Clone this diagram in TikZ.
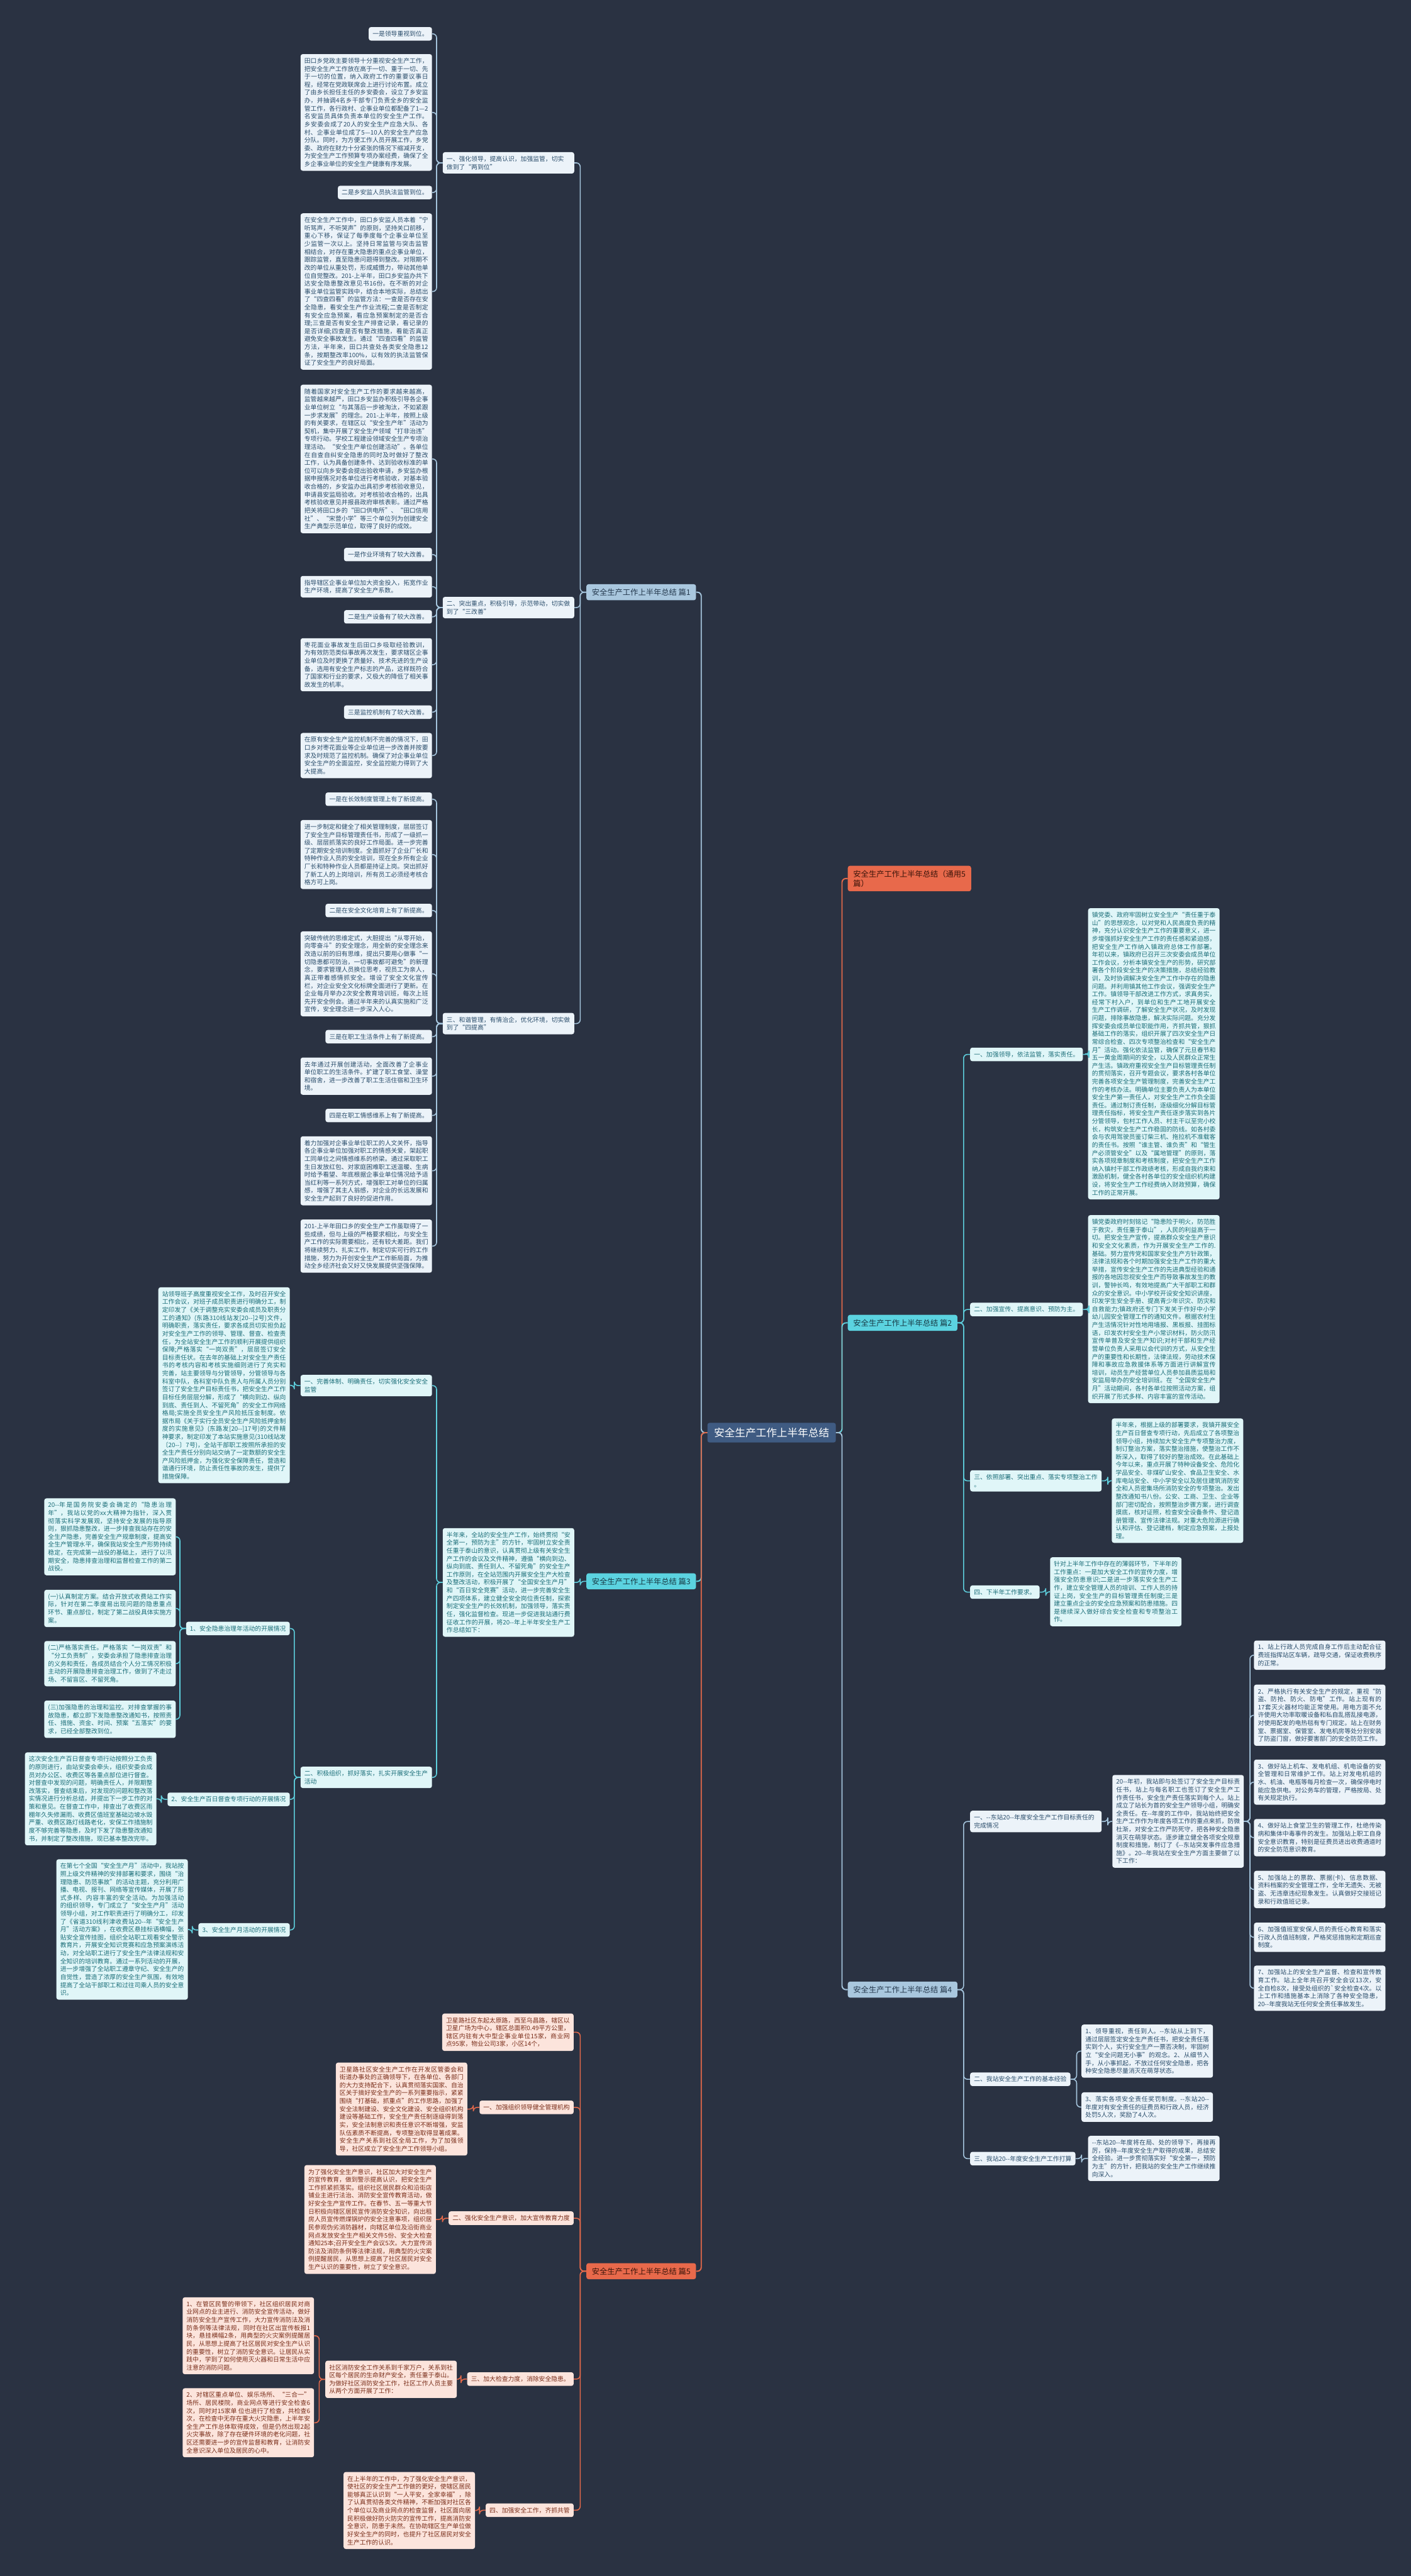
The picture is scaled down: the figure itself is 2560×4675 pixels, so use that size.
\documentclass[tikz,border=0pt]{standalone}
\usepackage{fontspec}
\newfontfamily\cjk{Noto Sans CJK SC}
\XeTeXlinebreaklocale "zh"
\XeTeXlinebreakskip=0pt plus 1.2pt
\parindent=0pt
\tolerance=9000
\emergencystretch=12pt
\hbadness=10000
\definecolor{bg}{HTML}{2A3242}
\definecolor{rootF}{HTML}{3F5B82}
\definecolor{blueL}{HTML}{A9C7DE}\definecolor{blueLT}{HTML}{24384D}
\definecolor{cyanL}{HTML}{5BD3E0}\definecolor{cyanLT}{HTML}{173944}
\definecolor{orL}{HTML}{E8694B}\definecolor{orLT}{HTML}{3A140A}
\definecolor{blueC}{HTML}{ECF3F9}\definecolor{blueCT}{HTML}{2A4D6B}
\definecolor{cyanC}{HTML}{E0F6F8}\definecolor{cyanCT}{HTML}{1B6E79}
\definecolor{orC}{HTML}{FCE4DC}\definecolor{orCT}{HTML}{7A2E1A}
\definecolor{blueK}{HTML}{A5C5DD}\definecolor{cyanK}{HTML}{5ECFDD}\definecolor{orK}{HTML}{E4694A}
\newcommand\fsn{\cjk\fontsize{11.2pt}{14.4pt}\selectfont}
\newcommand\fsl{\cjk\fontsize{14pt}{17pt}\selectfont}
\newcommand\fsr{\cjk\fontsize{19pt}{22pt}\selectfont}
\newcommand\ConL[3]{\draw[conn,#1] (#2.west) -- ++(-11pt,0) |- (#3.east);}
\newcommand\ConR[3]{\draw[conn,#1] (#2.east) -- ++(11pt,0) |- (#3.west);}
\tikzset{
 box/.style={font=\fsn, inner xsep=7pt, inner ysep=7pt, rounded corners=4pt},
 tw/.style={text width=224.5pt, align=justify},
 lab/.style={text width=224.5pt, align=left},
 lv1/.style={font=\fsl, inner xsep=10pt, inner ysep=8pt, rounded corners=4pt, align=left},
 bc/.style={fill=blueC, text=blueCT},
 cc/.style={fill=cyanC, text=cyanCT},
 oc/.style={fill=orC, text=orCT},
 L/.style={anchor=north east},
 R/.style={anchor=north west},
 conn/.style={line width=1.8pt, rounded corners=7pt},
}
\begin{document}
\begin{tikzpicture}[x=1pt,y=-1pt]
\fill[bg] (0,0) rectangle (2560,4675);
\useasboundingbox (0,0) rectangle (2560,4675);

% root and level 1
\node[font=\fsr, fill=rootF, text=white, inner xsep=12pt, inner ysep=9pt, rounded corners=4pt] (root) at (1400,2600) {安全生产工作上半年总结};
\node[lv1, fill=blueL, text=blueLT, L] (p1) at (1263,1060) {安全生产工作上半年总结 篇1};
\node[lv1, fill=orL, text=orLT, R] (p0) at (1538,1571) {安全生产工作上半年总结（通用5\\篇）};
\node[lv1, fill=cyanL, text=cyanLT, R] (p2) at (1538,2386) {安全生产工作上半年总结 篇2};
\node[lv1, fill=cyanL, text=cyanLT, L] (p3) at (1263,2855) {安全生产工作上半年总结 篇3};
\node[lv1, fill=blueL, text=blueLT, R] (p4) at (1538,3596) {安全生产工作上半年总结 篇4};
\node[lv1, fill=orL, text=orLT, L] (p5) at (1263,4107) {安全生产工作上半年总结 篇5};

% ---------------- 篇1
\node[box, lab, bc, L] (a1) at (1042,276) {一、强化领导，提高认识，加强监管，切实\\做到了“两到位”};
\node[box, lab, bc, L] (a2) at (1042,1083) {二、突出重点，积极引导，示范带动，切实做\\到了“三改善”};
\node[box, lab, bc, L] (a3) at (1042,1838) {三、和谐管理，有情治企，优化环境，切实做\\到了“四提高”};

\node[box, bc, L] (t1) at (784,49) {一是领导重视到位。};
\node[box, tw, bc, L] (t2) at (784,98) {田口乡党政主要领导十分重视安全生产工作，把安全生产工作放在高于一切、重于一切、先于一切的位置，纳入政府工作的重要议事日程，经常在党政联席会上进行讨论布置。成立了由乡长担任主任的乡安委会，设立了乡安监办，并抽调4名乡干部专门负责全乡的安全监管工作，各行政村、企事业单位都配备了1—2名安监员具体负责本单位的安全生产工作。乡安委会成了20人的安全生产应急大队、各村、企事业单位成了5—10人的安全生产应急分队。同时，为方便工作人员开展工作，乡党委、政府在财力十分紧张的情况下缩减开支，为安全生产工作预算专项办案经费，确保了全乡企事业单位的安全生产健康有序发展。};
\node[box, bc, L] (t3) at (784,337) {二是乡安监人员执法监管到位。};
\node[box, tw, bc, L] (t4) at (784,387) {在安全生产工作中，田口乡安监人员本着“宁听骂声，不听哭声”的原则，坚持关口前移，重心下移，保证了每季度每个企事业单位至少监管一次以上。坚持日常监管与突击监管相结合，对存在重大隐患的重点企事业单位，跟踪监管，直至隐患问题得到整改。对限期不改的单位从重处罚，形成威慑力，带动其他单位自觉整改。201-上半年，田口乡安监办共下达安全隐患整改意见书16份。在不断的对企事业单位监管实践中，结合本地实际，总结出了“四查四看”的监管方法：一查是否存在安全隐患，看安全生产作业流程;二查是否制定有安全应急预案，看应急预案制定的是否合理;三查是否有安全生产排查记录，看记录的是否详细;四查是否有整改措施，看能否真正避免安全事故发生。通过“四查四看”的监管方法，半年来，田口共查处各类安全隐患12条，按期整改率100\%，以有效的执法监管保证了安全生产的良好局面。};

\node[box, tw, bc, L] (t5) at (784,698) {随着国家对安全生产工作的要求越来越高，监管越来越严，田口乡安监办积极引导各企事业单位树立“与其落后一步被淘汰，不如紧跟一步求发展”的理念。201-上半年，按照上级的有关要求，在辖区以“安全生产年”活动为契机，集中开展了安全生产领域“打非治违”专项行动。学校工程建设领域安全生产专项治理活动。“安全生产单位创建活动”。各单位在自查自纠安全隐患的同时及时做好了整改工作，认为具备创建条件、达到验收标准的单位可以向乡安委会提出验收申请，乡安监办根据申报情况对各单位进行考核验收，对基本验收合格的，乡安监办出具初步考核验收意见，申请县安监局验收。对考核验收合格的，出具考核验收意见并报县政府审核表彰。通过严格把关将田口乡的“田口供电所”、“田口信用社”、“宋营小学”等三个单位列为创建安全生产典型示范单位，取得了良好的成效。};
\node[box, bc, L] (t6) at (784,994) {一是作业环境有了较大改善。};
\node[box, tw, bc, L] (t7) at (784,1045) {指导辖区企事业单位加大资金投入，拓宽作业生产环境，提高了安全生产系数。};
\node[box, bc, L] (t8) at (784,1107) {二是生产设备有了较大改善。};
\node[box, tw, bc, L] (t9) at (784,1158) {枣花面业事故发生后田口乡吸取经验教训，为有效防范类似事故再次发生，要求辖区企事业单位及时更换了质量好、技术先进的生产设备，选用有安全生产标志的产品，这样既符合了国家和行业的要求，又极大的降低了相关事故发生的机率。};
\node[box, bc, L] (t10) at (784,1280) {三是监控机制有了较大改善。};
\node[box, tw, bc, L] (t11) at (784,1330) {在原有安全生产监控机制不完善的情况下，田口乡对枣花面业等企业单位进一步改善并按要求及时规范了监控机制。确保了对企事业单位安全生产的全面监控，安全监控能力得到了大大提高。};

\node[box, bc, L] (t12) at (784,1438) {一是在长效制度管理上有了新提高。};
\node[box, tw, bc, L] (t13) at (784,1488) {进一步制定和健全了相关管理制度，层层签订了安全生产目标管理责任书，形成了一级抓一级、层层抓落实的良好工作局面。进一步完善了定期安全培训制度。全面抓好了企业厂长和特种作业人员的安全培训，现在全乡所有企业厂长和特种作业人员都是持证上岗。突出抓好了新工人的上岗培训，所有员工必须经考核合格方可上岗。};
\node[box, bc, L] (t14) at (784,1640) {二是在安全文化培育上有了新提高。};
\node[box, tw, bc, L] (t15) at (784,1690) {突破传统的思维定式，大胆提出“从零开始，向零奋斗”的安全理念，用全新的安全理念来改造以前的旧有思维，提出只要用心做事“一切隐患都可防治，一切事故都可避免”的新理念，要求管理人员换位思考，视员工为亲人，真正带着感情抓安全。增设了安全文化宣传栏，对企业安全文化标牌全面进行了更新。在企业每月举办2次安全教育培训班，每次上班先开安全例会。通过半年来的认真实施和广泛宣传，安全理念进一步深入人心。};
\node[box, bc, L] (t16) at (784,1869) {三是在职工生活条件上有了新提高。};
\node[box, tw, bc, L] (t17) at (784,1919) {去年通过开展创建活动，全面改善了企事业单位职工的生活条件。扩建了职工食堂、澡堂和宿舍，进一步改善了职工生活住宿和卫生环境。};
\node[box, bc, L] (t18) at (784,2012) {四是在职工情感维系上有了新提高。};
\node[box, tw, bc, L] (t19) at (784,2062) {着力加强对企事业单位职工的人文关怀，指导各企事业单位加强对职工的情感关爱，架起职工同单位之间情感维系的桥梁。通过采取职工生日发放红包、对家庭困难职工送温暖、生病时给予看望、年底根据企事业单位情况给予适当红利等一系列方式，增强职工对单位的归属感，增强了其主人翁感，对企业的长远发展和安全生产起到了良好的促进作用。};
\node[box, tw, bc, L] (t20) at (784,2213) {201-上半年田口乡的安全生产工作虽取得了一些成绩，但与上级的严格要求相比，与安全生产工作的实际需要相比，还有较大差距。我们将继续努力、扎实工作，制定切实可行的工作措施，努力为开创安全生产工作新局面，为推动全乡经济社会又好又快发展提供坚强保障。};

% ---------------- 篇2
\node[box, cc, R] (b1) at (1760,1901) {一、加强领导，依法监管，落实责任。};
\node[box, tw, cc, R] (b1t) at (1974,1648) {镇党委、政府牢固树立安全生产“责任重于泰山”的思想观念，以对党和人民高度负责的精神，充分认识安全生产工作的重要意义，进一步增强抓好安全生产工作的责任感和紧迫感，把安全生产工作纳入镇政府总体工作部署。年初以来，镇政府已召开三次安委会成员单位工作会议，分析本镇安全生产的形势，研究部署各个阶段安全生产的决策措施，总结经验教训，及时协调解决安全生产工作中存在的隐患问题。并利用镇其他工作会议，强调安全生产工作。镇领导干部改进工作方式，求真务实，经常下村入户，到单位和生产工地开展安全生产工作调研，了解安全生产状况，及时发现问题，排除事故隐患，解决实际问题。充分发挥安委会成员单位职能作用，齐抓共管，狠抓基础工作的落实，组织开展了四次安全生产日常综合检查、四次专项整治检查和“安全生产月”活动。强化依法监管，确保了元旦春节和五一黄金周期间的安全，以及人民群众正常生产生活。镇政府重视安全生产目标管理责任制的贯彻落实，召开专题会议，要求各村各单位完善各项安全生产管理制度，完善安全生产工作的考核办法。明确单位主要负责人为本单位安全生产第一责任人，对安全生产工作负全面责任。通过制订责任制，逐级细化分解目标管理责任指标，将安全生产责任逐步落实到各片分管领导，包村工作人员、村主干以至完小校长，构筑安全生产工作稳固的防线。如各村委会与农用驾驶员鉴订柴三机、拖拉机不准载客的责任书。按照“谁主管、谁负责”和“管生产必须管安全”以及“属地管理”的原则，落实各项规章制度和考核制度，把安全生产工作纳入镇村干部工作政绩考核，形成自我约束和激励机制，健全各村各单位的安全组织机构建设，将安全生产工作经费纳入财政预算，确保工作的正常开展。};
\node[box, cc, R] (b2) at (1760,2364) {二、加强宣传、提高意识、预防为主。};
\node[box, tw, cc, R] (b2t) at (1974,2205) {镇党委政府时刻铭记“隐患险于明火，防范胜于救灾，责任重于泰山”，人民的利益高于一切。把安全生产宣传，提高群众安全生产意识和安全文化素质，作为开展安全生产工作的.基础。努力宣传党和国家安全生产方针政策，法律法规和各个时期加强安全生产工作的重大举措，宣传安全生产工作的先进典型经验和通报的各地因忽视安全生产而导致事故发生的教训，警钟长鸣，有效地提高广大干部职工和群众的安全意识。中小学校开设安全知识讲座，印发学生安全手册、提高青少年识灾、防灾和自救能力;镇政府还专门下发关于作好中小学幼儿园安全管理工作的通知文件。根据农村生产生活情况针对性地用墙报、黑板报、挂图标语，印发农村安全生产小常识材料，防火防汛宣传单普及安全生产知识;对村干部和生产经营单位负责人采用以会代训的方式，从安全生产的重要性和长期性，法律法规，劳动技术保障和事故应急救援体系等方面进行讲解宣传培训，动员生产经营单位人员参加县质监局和安监局举办的安全培训班。在“全国安全生产月”活动期间，各村各单位按照活动方案，组织开展了形式多样、内容丰富的宣传活动。};
\node[box, lab, cc, R] (b3) at (1760,2668) {三、依照部署、突出重点、落实专项整治工作\\。};
\node[box, tw, cc, R] (b3t) at (2017,2574) {半年来，根据上级的部署要求，我镇开展安全生产百日督查专项行动，先后成立了各项整治领导小组，持续加大安全生产专项整治力度，制订整治方案，落实整治措施，使整治工作不断深入，取得了较好的整治成效。在此基础上今年以来，重点开展了特种设备安全、危险化学品安全、非煤矿山安全、食品卫生安全、水库电站安全、中小学安全以及居住建筑消防安全和人员密集场所消防安全的专项整治。发出整改通知书八份。公安、工商、卫生、企业等部门密切配合，按照整治步骤方案，进行调查摸底，核对证照，检查安全设备条件、登记造册管理、宣传法律法规。对重大危险源进行确认和评估、登记建档，制定应急预案，上报处理。};
\node[box, cc, R] (b4) at (1760,2877) {四、下半年工作要求。};
\node[box, tw, cc, R] (b4t) at (1905,2826) {针对上半年工作中存在的薄弱环节，下半年的工作重点：一是加大安全工作的宣传力度，增强安全防患意识;二是进一步落实安全生产工作，建立安全管理人员的培训、工作人员的持证上岗，安全生产的目标管理责任制度;三是建立重点企业的安全应急预案和防患措施。四是继续深入做好综合安全检查和专项整治工作。};

% ---------------- 篇3
\node[box, tw, cc, L] (c0) at (1042,2773) {半年来，全站的安全生产工作，始终贯彻“安全第一，预防为主”的方针，牢固树立安全责任重于泰山的意识，认真贯彻上级有关安全生产工作的会议及文件精神，遵循“横向到边、纵向到底、责任到人、不留死角”的安全生产工作原则，在全站范围内开展安全生产大检查及整改活动，积极开展了“全国安全生产月”和“百日安全竞赛”活动，进一步完善安全生产四项体系，建立健全安全岗位责任制，探索制定安全生产的长效机制，加强领导，落实责任，强化监督检查。现进一步促进我站通行费征收工作的开展，将20--年上半年安全生产工作总结如下：};
\node[box, lab, cc, L] (c1) at (784,2495) {一、完善体制、明确责任，切实强化安全安全\\监管};
\node[box, tw, cc, L] (c1t) at (526,2336) {站领导班子高度重视安全工作，及时召开安全工作会议，对班子成员职责进行明确分工，制定印发了《关于调整充实安委会成员及职责分工的通知》(东路310线站发[20--]2号)文件，明确职责，落实责任，要求各成员切实担负起对安全生产工作的领导、管理、督查、检查责任，为全站安全生产工作的顺利开展提供组织保障;严格落实“一岗双责”，层层签订安全目标责任状。在去年的基础上对安全生产责任书的考核内容和考核实施细则进行了充实和完善，站主要领导与分管领导，分管领导与各科室中队，各科室中队负责人与所属人员分别签订了安全生产目标责任书，把安全生产工作目标任务层层分解，形成了“横向到边、纵向到底、责任到人、不留死角”的安全工作网络格局;实施全员安全生产风险抵压金制度。依据市局《关于实行全员安全生产风险抵押金制度的实施意见》(东路发[20--]17号)的文件精神要求，制定印发了本站实施意见(310线站发〔20--〕7号)，全站干部职工按照所承担的安全生产责任分别向站交纳了一定数额的安全生产风险抵押金，为强化安全保障责任，营造和谐通行环境，防止责任性事故的发生，提供了措施保障。};
\node[box, lab, cc, L] (c2) at (784,3206) {二、积极组织，抓好落实，扎实开展安全生产\\活动};
\node[box, cc, L] (c21) at (526,2943) {1、安全隐患治理年活动的开展情况};
\node[box, cc, L] (c22) at (526,3253) {2、安全生产百日督查专项行动的开展情况};
\node[box, cc, L] (c23) at (526,3490) {3、安全生产月活动的开展情况};
\node[box, tw, cc, L] (c211) at (319,2719) {20--年是国务院安委会确定的“隐患治理年”，我站以党的xx大精神为指针，深入贯彻落实科学发展观，坚持安全发展的指导原则，狠抓隐患整改，进一步排查我站存在的安全生产隐患，完善安全生产规章制度，提高安全生产管理水平，确保我站安全生产形势持续稳定，在完成第一战役的基础上，进行了以汛期安全，隐患排查治理和监督检查工作的第二战役。};
\node[box, tw, cc, L] (c212) at (319,2885) {(一)认真制定方案。结合开放式收费站工作实际，针对在第二季度易出现问题的隐患重点环节、重点部位，制定了第二战役具体实施方案。};
\node[box, tw, cc, L] (c213) at (319,2978) {(二)严格落实责任。严格落实“一岗双责”和“分工负责制”，安委会承担了隐患排查治理的义务和责任，各成员结合个人分工情况积极主动的开展隐患排查治理工作，做到了不走过场、不留盲区、不留死角。};
\node[box, tw, cc, L] (c214) at (319,3086) {(三)加强隐患的治理和监控。对排查掌握的事故隐患，都立即下发隐患整改通知书，按照责任、措施、资金、时间、预案“五落实”的要求，已经全部整改到位。};
\node[box, tw, cc, L] (c221) at (284,3180) {这次安全生产百日督查专项行动按照分工负责的原则进行，由站安委会牵头，组织安委会成员对办公区、收费区等各重点部位进行督查。对督查中发现的问题，明确责任人，并限期整改落实，督查结束后，对发现的问题和整改落实情况进行分析总结，并提出下一步工作的对策和意见。在督查工作中，排查出了收费区雨棚年久失修漏雨、收费区值班室基础边坡水毁严重、收费区路灯线路老化，安保工作措施制度不够完善等隐患，及时下发了隐患整改通知书，并制定了整改措施，现已基本整改完毕。};
\node[box, tw, cc, L] (c231) at (341,3374) {在第七个全国“安全生产月”活动中，我站按照上级文件精神的安排部署和要求，围绕“治理隐患、防范事故”的活动主题，充分利用广播、电视、报刊、网络等宣传媒体，开展了形式多样、内容丰富的安全活动。为加强活动的组织领导，专门成立了“安全生产月”活动领导小组，对工作职责进行了明确分工，印发了《省道310线利津收费站20--年“安全生产月”活动方案》，在收费区悬挂标语横幅，张贴安全宣传挂图，组织全站职工观看安全警示教育片，开展安全知识竞赛和应急预案演练活动，对全站职工进行了安全生产法律法规和安全知识的培训教育。通过一系列活动的开展，进一步增强了全站职工遵章守纪、安全生产的自觉性，营造了浓厚的安全生产氛围，有效地提高了全站干部职工和过往司乘人员的安全意识。};

% ---------------- 篇4
\node[box, lab, bc, R] (d1) at (1760,3286) {一、--东站20--年度安全生产工作目标责任的\\完成情况};
\node[box, tw, bc, R] (d1t) at (2018,3221) {20--年初，我站即与处签订了安全生产目标责任书，站上与每名职工也签订了安全生产工作责任书，安全生产责任落实到每个人。站上成立了站长为首的安全生产领导小组，明确安全责任。在--年度的工作中，我站始终把安全生产工作作为年度各项工作的重点来抓，防微杜渐，对安全工作严防死守，把各种安全隐患消灭在萌芽状态。逐步建立健全各项安全规章制度和措施，制订了《--东站突发事件应急措施》。20--年我站在安全生产方面主要做了以下工作：};
\node[box, tw, bc, R] (i1) at (2275,2977) {1、站上行政人员完成自身工作后主动配合征费班指挥站区车辆，疏导交通，保证收费秩序的正常。};
\node[box, tw, bc, R] (i2) at (2275,3057) {2、严格执行有关安全生产的规定，重视“防盗、防抢、防火、防电”工作。站上现有的17套灭火器材均能正常使用。用电方面不允许使用大功率取暖设备和私自乱搭乱接电源，对使用配发的电热毯有专门规定。站上在财务室、票据室、保管室、发电机房等处分别安装了防盗门窗，做好要害部门的安全防范工作。};
\node[box, tw, bc, R] (i3) at (2275,3193) {3、做好站上机车、发电机组、机电设备的安全管理和日常维护工作。站上对发电机组的水、机油、电瓶等每月检查一次，确保停电时能应急供电。对公务车的管理，严格按局、处有关规定执行。};
\node[box, tw, bc, R] (i4) at (2275,3301) {4、做好站上食堂卫生的管理工作，杜绝传染病和集体中毒事件的发生。加强站上职工自身安全意识教育，特别是征费员进出收费通道时的安全防范意识教育。};
\node[box, tw, bc, R] (i5) at (2275,3395) {5、加强站上的票款、票据(卡)、信息数据、资料档案的安全管理工作，全年无遗失、无被盗、无违章违纪现象发生。认真做好交接班记录和行政值班记录。};
\node[box, tw, bc, R] (i6) at (2275,3489) {6、加强值班室安保人员的责任心教育和落实行政人员值班制度，严格奖惩措施和定期巡查制度。};
\node[box, tw, bc, R] (i7) at (2275,3567) {7、加强站上的安全生产监督、检查和宣传教育工作。站上全年共召开安全会议13次，安全自检8次，接受处组织的`安全检查4次。以上工作和措施基本上消除了各种安全隐患，20--年度我站无任何安全责任事故发生。};
\node[box, bc, R] (d2) at (1760,3761) {二、我站安全生产工作的基本经验};
\node[box, tw, bc, R] (d21) at (1962,3674) {1、领导重视，责任到人。--东站从上到下，通过层层签定安全生产责任书，把安全责任落实到个人，实行安全生产一票否决制，牢固树立“安全问题无小事”的观念。2、从细节入手，从小事抓起，不放过任何安全隐患，把各种安全隐患尽量消灭在萌芽状态。};
\node[box, tw, bc, R] (d22) at (1962,3797) {3、落实各项安全责任奖罚制度。--东站20--年度对有安全责任的征费员和行政人员，经济处罚5人次，奖励了4人次。};
\node[box, bc, R] (d3) at (1760,3905) {三、我站20--年度安全生产工作打算};
\node[box, tw, bc, R] (d3t) at (1974,3876) {--东站20--年度将在局、处的领导下，再接再厉，保持--年度安全生产取得的成果，总结安全经验。进一步贯彻落实好“安全第一，预防为主”的方针，把我站的安全生产工作继续推向深入。};

% ---------------- 篇5
\node[box, tw, oc, L] (e0) at (1041,3654) {卫星路社区东起太原路，西至乌昌路，辖区以卫星广场为中心，辖区总面积0.49平方公里，辖区内驻有大中型企事业单位15家，商业网点95家，物业公司3家，小区14个，};
\node[box, oc, L] (e1) at (1041,3812) {一、加强组织领导健全管理机构};
\node[box, tw, oc, L] (e1t) at (848,3743) {卫星路社区安全生产工作在开发区管委会和街道办事处的正确领导下，在各单位、各部门的大力支持配合下，认真贯彻落实国家、自治区关于搞好安全生产的一系列重要指示，紧紧围绕“打基础，抓重点”的工作思路，加强了安全法制建设、安全文化建设、安全组织机构建设等基础工作，安全生产责任制逐级得到落实，安全法制意识和责任意识不断增强，安监队伍素质不断提高，专项整治取得显著成果。安全生产关系到社区全局工作，为了加强领导，社区成立了安全生产工作领导小组。};
\node[box, oc, L] (e2) at (1041,4013) {二、强化安全生产意识，加大宣传教育力度};
\node[box, tw, oc, L] (e2t) at (791,3929) {为了强化安全生产意识，社区加大对安全生产的宣传教育，做到警示提高认识，把安全生产工作抓紧抓落实。组织社区居民群众和沿街店铺业主进行法治、消防安全宣传教育活动，做好安全生产宣传工作。在春节、五一等重大节日积极向辖区居民宣传消防安全知识，向出租房人员宣传燃煤锅炉的安全注意事项，组织居民参观伪劣消防器材，向辖区单位及沿街商业网点发放安全生产相关文件5份、安全大检查通知25本;召开安全生产会议5次。大力宣传消防法及消防条例等法律法规，用典型的火灾案例提醒居民，从思想上提高了社区居民对安全生产认识的重要性，树立了安全意识。};
\node[box, oc, L] (e3) at (1041,4305) {三、加大检查力度，消除安全隐患。};
\node[box, tw, oc, L] (e3t) at (829,4284) {社区消防安全工作关系到千家万户，关系到社区每个居民的生命财产安全，责任重于泰山。为做好社区消防安全工作，社区工作人员主要从两个方面开展了工作：};
\node[box, tw, oc, L] (e31) at (570,4169) {1、在管区民警的带领下，社区组织居民对商业网点的业主进行、消防安全宣传活动，做好消防安全生产宣传工作，大力宣传消防法及消防条例等法律法规，同时在社区出宣传板报1块，悬挂横幅2条，用典型的火灾案例提醒居民，从思想上提高了社区居民对安全生产认识的重要性，树立了消防安全意识。让居民从实践中，学到了如何使用灭火器和日常生活中应注意的消防问题。};
\node[box, tw, oc, L] (e32) at (570,4334) {2、对辖区重点单位、娱乐场所、“三合一”场所、居民楼院，商业网点等进行安全检查6次，同时对15家单 位也进行了检查，共检查6次，在检查中无存在重大火灾隐患，上半年安全生产工作总体取得成效，但是仍然出现2起火灾事故，除了存在硬件环境的老化问题，社区还需要进一步的宣传监督和教育，让消防安全意识深入单位及居民的心中。};
\node[box, oc, L] (e4) at (1041,4543) {四、加强安全工作，齐抓共管};
\node[box, tw, oc, L] (e4t) at (862,4486) {在上半年的工作中，为了强化安全生产意识，使社区的安全生产工作做的更好，使辖区居民能够真正认识到“一人平安，全家幸福”，除了认真贯彻各类文件精神，不断加强对社区各个单位以及商业网点的检查监督，社区面向居民积极做好防火防灾的宣传工作，提高消防安全意识，防患于未然。在协助辖区生产单位做好安全生产的同时，也提升了社区居民对安全生产工作的认识。};

% ---------------- connectors
\ConL{blueK,line width=2.2pt}{root}{p1}
\ConL{cyanK,line width=2.2pt}{root}{p3}
\ConL{orK,line width=2.2pt}{root}{p5}
\ConR{orK,line width=2.2pt}{root}{p0}
\ConR{cyanK,line width=2.2pt}{root}{p2}
\ConR{blueK,line width=2.2pt}{root}{p4}

\foreach \c in {a1,a2,a3}{\ConL{blueK}{p1}{\c}}
\foreach \c in {t1,t2,t3,t4}{\ConL{blueK}{a1}{\c}}
\foreach \c in {t5,t6,t7,t8,t9,t10,t11}{\ConL{blueK}{a2}{\c}}
\foreach \c in {t12,t13,t14,t15,t16,t17,t18,t19,t20}{\ConL{blueK}{a3}{\c}}

\foreach \c in {b1,b2,b3,b4}{\ConR{cyanK}{p2}{\c}}
\ConR{cyanK}{b1}{b1t}
\ConR{cyanK}{b2}{b2t}
\ConR{cyanK}{b3}{b3t}
\ConR{cyanK}{b4}{b4t}

\ConL{cyanK}{p3}{c0}
\foreach \c in {c1,c2}{\ConL{cyanK}{c0}{\c}}
\ConL{cyanK}{c1}{c1t}
\foreach \c in {c21,c22,c23}{\ConL{cyanK}{c2}{\c}}
\foreach \c in {c211,c212,c213,c214}{\ConL{cyanK}{c21}{\c}}
\ConL{cyanK}{c22}{c221}
\ConL{cyanK}{c23}{c231}

\foreach \c in {d1,d2,d3}{\ConR{blueK}{p4}{\c}}
\ConR{blueK}{d1}{d1t}
\foreach \c in {i1,i2,i3,i4,i5,i6,i7}{\ConR{blueK}{d1t}{\c}}
\foreach \c in {d21,d22}{\ConR{blueK}{d2}{\c}}
\ConR{blueK}{d3}{d3t}

\foreach \c in {e0,e1,e2,e3,e4}{\ConL{orK}{p5}{\c}}
\ConL{orK}{e1}{e1t}
\ConL{orK}{e2}{e2t}
\ConL{orK}{e3}{e3t}
\foreach \c in {e31,e32}{\ConL{orK}{e3t}{\c}}
\ConL{orK}{e4}{e4t}
\end{tikzpicture}
\end{document}
